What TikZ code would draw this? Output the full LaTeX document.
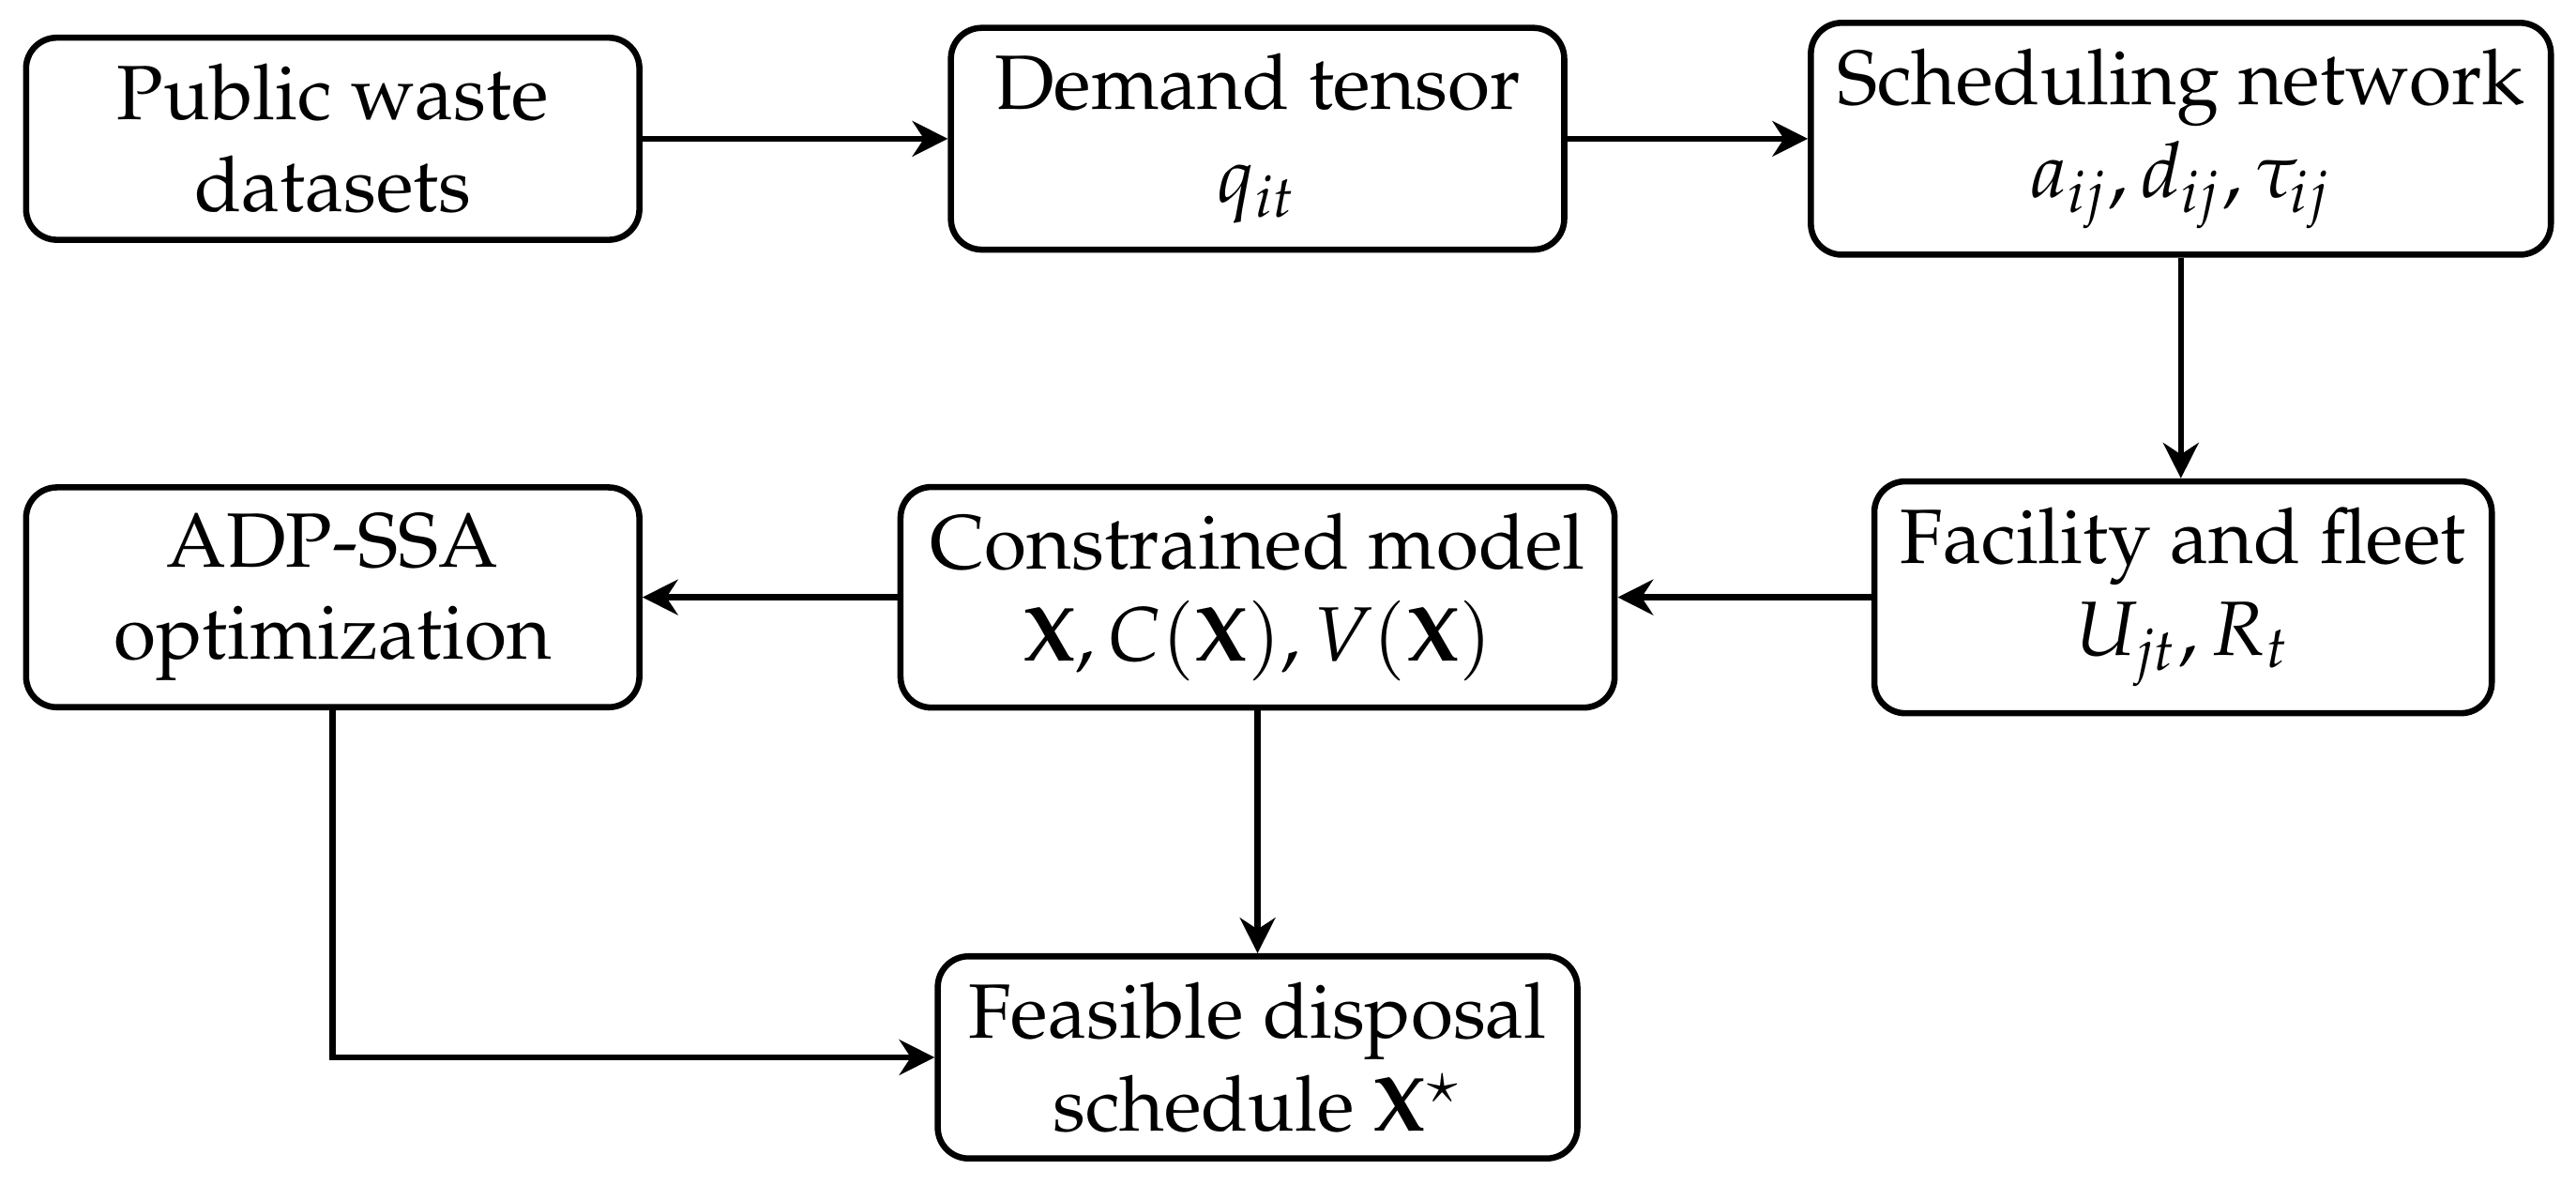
\documentclass[tikz,border=0pt]{standalone}
\usepackage[T1]{fontenc}
\usepackage{amsmath,amssymb}
\usepackage{mathpazo}
\usepackage{tikz}
\usetikzlibrary{arrows.meta,positioning,calc}

\begin{document}
\begin{tikzpicture}[
    stagebox/.style={draw,thick,rounded corners=4pt,align=center,minimum width=2.8cm,inner sep=3.4pt},
    flow/.style={thick,-{Stealth[length=4.6pt,width=4.6pt]}}]
  \useasboundingbox (0,0) rectangle (11.76,5.4075);
  % top row
  \node[stagebox] (data) at (1.519,4.774) {Public waste\\datasets};
  \node[stagebox] (demand) at (5.741,4.774) {Demand tensor\\$q_{it}$};
  \node[stagebox] (net) at (9.956,4.774) {Scheduling network\\$a_{ij}, d_{ij}, \tau_{ij}$};
  % middle row
  \node[stagebox] (fleet) at (9.966,2.681) {Facility and fleet\\$U_{jt}, R_t$};
  \node[stagebox,minimum width=3.26cm] (model) at (5.741,2.681) {Constrained model\\$\mathbf{X}, C(\mathbf{X}), V(\mathbf{X})$};
  \node[stagebox] (adp) at (1.519,2.681) {ADP-SSA\\optimization};
  % bottom
  \node[stagebox,minimum width=2.92cm] (sched) at (5.741,0.581) {Feasible disposal\\schedule $\mathbf{X}^{\star}$};

  \draw[flow] (data.east) -- (demand.west);
  \draw[flow] (demand.east) -- (net.west);
  \draw[flow] (net.south) -- (net.south |- fleet.north);
  \draw[flow] (fleet.west) -- (model.east);
  \draw[flow] (model.west) -- (adp.east);
  \draw[flow] (model.south) -- (model.south |- sched.north);
  \draw[flow] (adp.south) |- (sched.west);
\end{tikzpicture}
\end{document}
